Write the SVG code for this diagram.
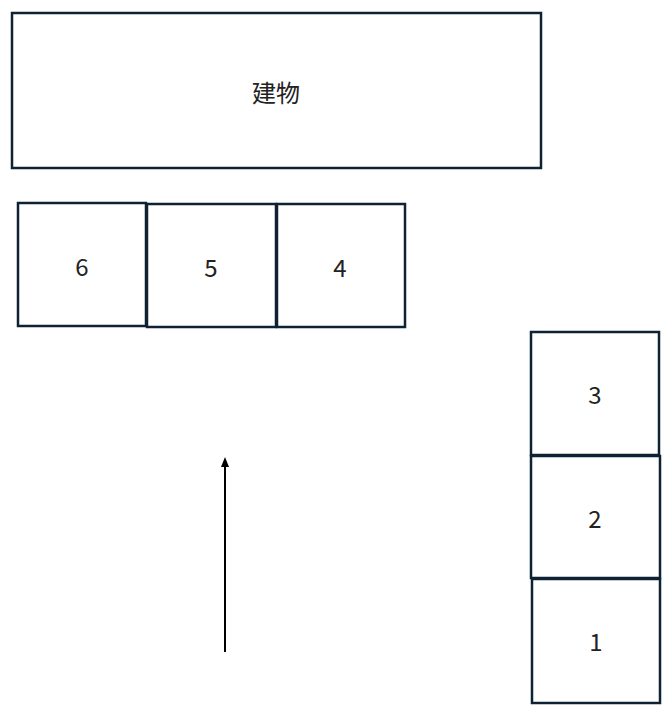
<svg xmlns="http://www.w3.org/2000/svg" width="672" height="720" viewBox="0 0 672 720">
<style>
rect{fill:#fff;stroke:#0e2233;stroke-width:2.5}
text{font-family:"Noto Sans CJK JP","Noto Sans",sans-serif;font-size:24px;fill:#222;text-anchor:middle;dominant-baseline:central}
</style>
<defs><marker id="a" markerWidth="10" markerHeight="10" refX="5" refY="5" orient="auto" markerUnits="userSpaceOnUse"><path d="M0,1 L10,5 L0,9 Z" fill="#000"/></marker></defs>
<rect width="672" height="720" style="fill:#fff;stroke:none"/>
<g id="building"><rect x="12" y="13" width="529" height="155"/><text x="276" y="91">建物</text></g>
<g id="n6"><rect x="18" y="203" width="128" height="123"/><text x="82" y="265">6</text></g>
<g id="n5"><rect x="147" y="204" width="129" height="123"/><text x="211" y="266">5</text></g>
<g id="n4"><rect x="277" y="204" width="128" height="123"/><text x="340" y="266">4</text></g>
<g id="n3"><rect x="531" y="332" width="128" height="123"/><text x="595" y="393">3</text></g>
<g id="n2"><rect x="531" y="456" width="129" height="122"/><text x="595" y="517">2</text></g>
<g id="n1"><rect x="532" y="579" width="128" height="124"/><text x="596" y="640">1</text></g>
<g id="connectors"><line x1="225" y1="652" x2="225" y2="462" stroke="#000" stroke-width="2" marker-end="url(#a)"/></g>
</svg>
